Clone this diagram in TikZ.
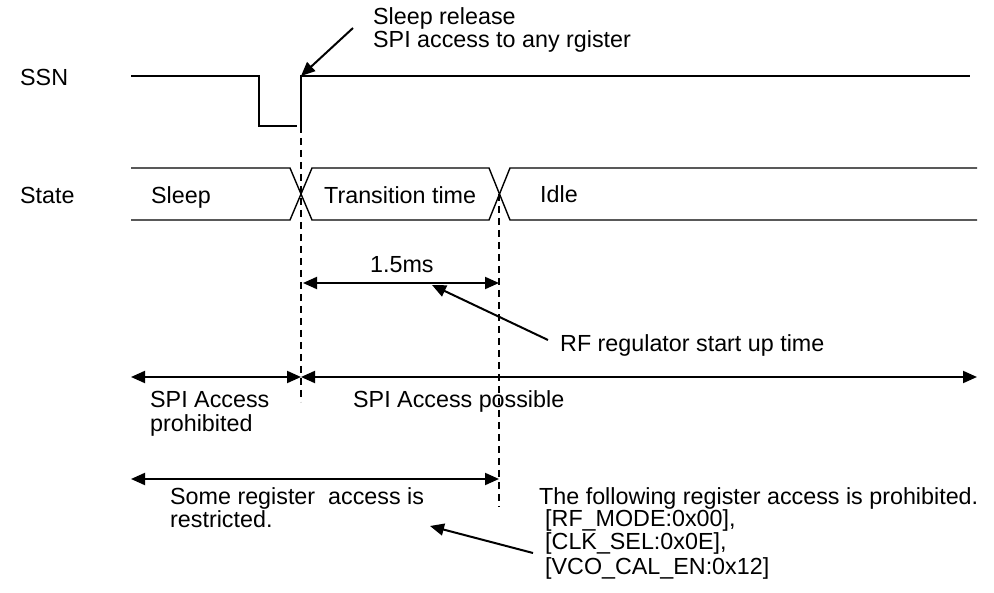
\documentclass[tikz,border=0pt]{standalone}
\usepackage{fontspec}
\setmainfont{Liberation Sans}
\usetikzlibrary{arrows.meta}
\begin{document}
\begin{tikzpicture}[x=1pt,y=-1pt,
  sig/.style={line width=1.4pt},
  dim/.style={line width=2pt,{Triangle[length=14pt,width=12pt]}-{Triangle[length=14pt,width=12pt]}},
  ptr/.style={line width=2pt,-{Triangle[length=14pt,width=12pt]}},
  guide/.style={line width=1.2pt,dash pattern=on 7pt off 5pt},
  lbl/.style={anchor=base west,inner sep=0pt,font=\fontsize{23.3}{24}\selectfont}]
\useasboundingbox (0,0) rectangle (994,593);
% SSN waveform
\coordinate (s0) at (131,76);
\coordinate (s1) at (259,76);
\coordinate (s2) at (259,126);
\coordinate (s3) at (297,126);
\coordinate (r0) at (301,126);
\coordinate (r1) at (301,76);
\coordinate (s4) at (970,76);
\draw[sig] (s0) -- (s1) -- (s2) -- (s3);
\draw[sig] (r0) -- (r1) -- (s4);
% State bus
\coordinate (a0) at (131,168); \coordinate (b0) at (131,220);
\coordinate (a1) at (290,168); \coordinate (b1) at (290,220);
\coordinate (a2) at (312,168); \coordinate (b2) at (312,220);
\coordinate (a3) at (489,168); \coordinate (b3) at (489,220);
\coordinate (a4) at (510,168); \coordinate (b4) at (510,220);
\coordinate (a5) at (977,168); \coordinate (b5) at (977,220);
\draw[sig] (a0) -- (a1) -- (b2) -- (b3) -- (a4) -- (a5);
\draw[sig] (b0) -- (b1) -- (a2) -- (a3) -- (b4) -- (b5);
% guides
\coordinate (g1e) at (301,402);
\coordinate (g2s) at (499,194);
\coordinate (g2e) at (499,507);
\draw[guide] (r0) -- (g1e);
\draw[guide] (g2s) -- (g2e);
% labels
\node[lbl] (ssn) at (20,86) {SSN};
\node[lbl] (state) at (20,204) {State};
\node[lbl] (sleep) at (151,204) {Sleep};
\node[lbl] (trans) at (324,204) {Transition time};
\node[lbl] (idle) at (540,203) {Idle};
\node[lbl] (rel1) at (373,25) {Sleep release};
\node[lbl] (rel2) at (373,48) {SPI access to any rgister};
\coordinate (relp) at (353,28);
\draw[ptr] (relp) -- (r1);
% 1.5ms
\coordinate (m0) at (303,283);
\coordinate (m1) at (499,283);
\draw[dim] (m0) -- (m1);
\node[lbl] (ms) at (370,273) {1.5ms};
\node[lbl] (rf) at (560,352) {RF regulator start up time};
\coordinate (rfp) at (548,340);
\coordinate (rft) at (432,285);
\draw[ptr] (rfp) -- (rft);
% SPI access arrows
\coordinate (p0) at (131,377);
\coordinate (p1) at (301,377);
\coordinate (p2) at (977,377);
\draw[dim] (p0) -- (p1);
\draw[dim] (p1) -- (p2);
\node[lbl] (pro1) at (150,408) {SPI Access};
\node[lbl] (pro2) at (150,432) {prohibited};
\node[lbl] (pos) at (353,408) {SPI Access possible};
% some register
\coordinate (q0) at (131,479);
\coordinate (q1) at (499,479);
\draw[dim] (q0) -- (q1);
\node[lbl] (some1) at (170,504) {Some register\ \ access is};
\node[lbl] (some2) at (170,528) {restricted.};
\node[lbl] (fol0) at (539,504) {The following register access is prohibited.};
\node[lbl] (fol1) at (545,527) {[RF\_MODE:0x00],};
\node[lbl] (fol2) at (545,550) {[CLK\_SEL:0x0E],};
\node[lbl] (fol3) at (545,574) {[VCO\_CAL\_EN:0x12]};
\coordinate (bp) at (533,553);
\coordinate (bt) at (430,526);
\draw[ptr] (bp) -- (bt);
\end{tikzpicture}
\end{document}
